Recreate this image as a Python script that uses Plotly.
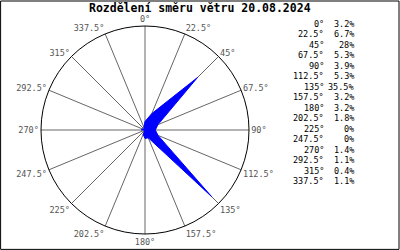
import plotly.graph_objects as go

title = "Rozdělení směru větru 20.08.2024"
directions = [0, 22.5, 45, 67.5, 90, 112.5, 135, 157.5, 180, 202.5, 225, 247.5, 270, 292.5, 315, 337.5]
values = [3.2, 6.7, 28, 5.3, 3.9, 5.3, 35.5, 3.2, 3.2, 1.8, 0, 0, 1.4, 1.1, 0.4, 1.1]
tick_labels = [f"{d:g}°" for d in directions]

W, H = 400, 250
cx, cy, R = 145, 130, 104

fig = go.Figure()
fig.add_trace(go.Scatterpolar(
    r=values + values[:1],
    theta=directions + directions[:1],
    mode="lines",
    fill="toself",
    fillcolor="#0000ff",
    line=dict(color="#0000ff", width=1),
    hoverinfo="skip",
))

font = "DejaVu Sans Mono, Liberation Mono, monospace"
annotations = []
y0, dy = 24, 10.47
for i, (d, v) in enumerate(zip(directions, values)):
    y = 1 - (y0 + i * dy) / H
    annotations.append(dict(x=326 / W, y=y, xref="paper", yref="paper", text=f"{d:g}°",
                            showarrow=False, xanchor="right", yanchor="middle",
                            font=dict(family=font, size=8.5, color="black")))
    annotations.append(dict(x=356 / W, y=y, xref="paper", yref="paper", text=f"{v:g}%",
                            showarrow=False, xanchor="right", yanchor="middle",
                            font=dict(family=font, size=8.5, color="black")))

annotations.append(dict(x=200 / W, y=1 - 8 / H, xref="paper", yref="paper", text=f"<b>{title}</b>",
                        showarrow=False, xanchor="center", yanchor="middle",
                        font=dict(family=font, size=11.5, color="black")))

fig.update_layout(
    width=W, height=H,
    margin=dict(l=0, r=0, t=0, b=0),
    paper_bgcolor="white",
    plot_bgcolor="white",
    showlegend=False,
    annotations=annotations,
    shapes=[dict(type="rect", xref="paper", yref="paper", x0=0.0015, y0=0.0025, x1=0.9975, y1=0.996,
                 line=dict(color="black", width=1))],
    polar=dict(
        domain=dict(x=[(cx - R) / W, (cx + R) / W], y=[(H - cy - R) / H, (H - cy + R) / H]),
        bgcolor="white",
        radialaxis=dict(range=[0, 39.2], visible=True, showgrid=False, showticklabels=False,
                        showline=False, ticks=""),
        angularaxis=dict(rotation=90, direction="clockwise", tickmode="array",
                         tickvals=directions, ticktext=tick_labels,
                         showgrid=True, gridcolor="#666666", gridwidth=1,
                         showline=True, linecolor="black", linewidth=1, ticks="",
                         tickfont=dict(family=font, size=8.5, color="#555555")),
    ),
)

fig.write_html("out.html")
